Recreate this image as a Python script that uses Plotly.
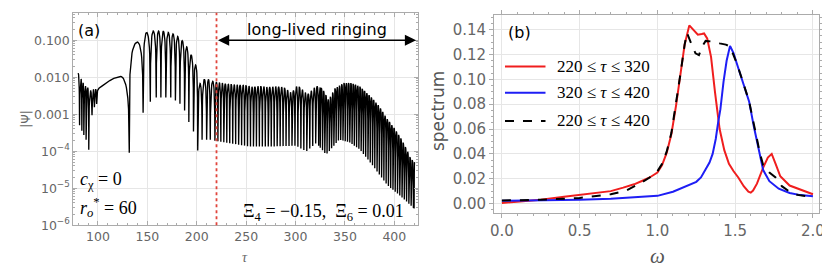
import numpy as np
import plotly.graph_objects as go

# ---------------- panel (a): |Psi| vs tau (log10 values) -------------
# resolved extrema, alternating peak / dip
early_tau = [80.0, 81.4, 83.0, 83.7, 85.0, 85.7, 87.4, 88.0, 89.7, 90.7, 92.7, 94.0, 95.4, 96.4, 97.7, 98.7]
early_log = [-1.89, -3.30, -2.05, -3.45, -2.15, -3.56, -2.24, -3.69, -2.28, -3.96, -2.37, -3.03, -2.33, -2.81, -2.32, -2.72]
# smooth hump
hump_tau = [98.7, 99.6, 101.0, 104.0, 108.0, 112.0, 116.0, 120.0, 123.0]
hump_log = [-2.72, -2.36, -2.30, -2.24, -2.16, -2.09, -2.03, -1.99, -1.98]
# resolved lobes (alternating peak / dip)
mid_tau = [123.0, 131.7, 140.0, 145.7, 149.3, 153.0, 156.0, 159.0, 161.3, 163.7, 166.2, 168.7,
           171.2, 173.7, 176.0, 178.4, 180.7, 183.0, 185.3, 187.7, 189.8, 192.0, 194.3, 196.7,
           198.8, 201.0, 203.4, 205.4, 207.7, 210.0, 211.8, 213.7, 216.2, 218.4]
mid_log = [-1.98, -4.04, -1.05, -2.96, -0.79, -2.66, -0.75, -2.55, -0.75, -2.55, -0.76, -2.55,
           -0.79, -2.55, -0.83, -2.63, -0.90, -2.72, -1.01, -2.90, -1.18, -3.21, -1.40, -3.47,
           -1.67, -3.98, -2.17, -3.69, -2.06, -3.69, -2.06, -3.69, -2.11, -3.72]
# long-lived ringing: envelopes of the dense oscillation
upper_tau = [218, 228, 238, 248, 256, 264, 272, 280, 288, 296, 302, 312, 321, 327, 333.5, 340,
             349, 356, 365, 377, 385, 393, 400, 407, 413, 416, 420]
upper_log = [-2.12, -2.17, -2.20, -2.21, -2.26, -2.24, -2.27, -2.25, -2.27, -2.43, -2.21, -2.47,
             -2.23, -2.30, -2.62, -2.30, -2.16, -2.16, -2.25, -2.55, -2.80, -3.14, -3.38, -3.67,
             -3.98, -4.17, -4.30]
lower_tau = [218, 233, 253, 280, 300, 311, 321, 331, 344, 354, 365, 377, 393, 407, 416, 420]
lower_log = [-3.72, -3.78, -3.87, -3.87, -3.85, -4.00, -3.78, -4.09, -3.69, -3.75, -3.95, -4.35,
             -4.92, -5.23, -5.45, -5.55]
ring_breaks = [218.4, 325.0, 420.0]   # tau segments of the ringing
ring_lobe = [3.0, 2.3]                # lobe width (tau) in each segment

tau_split = 220
tau_end = 422

# ---------------- panel (b): spectra ----------------
omega_red = [0.0, 0.25, 0.4, 0.5, 0.6, 0.7, 0.78, 0.85, 0.9, 0.95, 1.0, 1.03, 1.06, 1.09, 1.12, 1.15,
             1.175, 1.205, 1.23, 1.26, 1.285, 1.30, 1.32, 1.345, 1.37, 1.40, 1.43, 1.46, 1.49, 1.52,
             1.555, 1.585, 1.60, 1.615, 1.64, 1.68, 1.71, 1.735, 1.76, 1.79, 1.85, 1.92, 2.0]
spec_red = [0.0005, 0.003, 0.0055, 0.0068, 0.0085, 0.010, 0.0128, 0.0155, 0.0182, 0.021, 0.025,
            0.031, 0.041, 0.056, 0.079, 0.105, 0.128, 0.1435, 0.140, 0.136, 0.1365, 0.137, 0.133,
            0.118, 0.090, 0.060, 0.043, 0.032, 0.026, 0.021, 0.014, 0.0095, 0.0088, 0.0105, 0.016,
            0.029, 0.037, 0.040, 0.032, 0.022, 0.0145, 0.011, 0.0075]
omega_blue = [0.0, 0.3, 0.5, 0.7, 0.8, 0.9, 1.0, 1.1, 1.2, 1.25, 1.28, 1.31, 1.335, 1.355, 1.375,
              1.39, 1.405, 1.425, 1.445, 1.467, 1.49, 1.51, 1.55, 1.59, 1.62, 1.64, 1.66, 1.68,
              1.72, 1.78, 1.85, 1.92, 2.0]
spec_blue = [0.0022, 0.0025, 0.003, 0.0038, 0.0045, 0.0052, 0.0062, 0.0095, 0.0145, 0.0175, 0.021,
             0.027, 0.033, 0.040, 0.052, 0.065, 0.076, 0.098, 0.115, 0.127, 0.121, 0.113, 0.098,
             0.082, 0.062, 0.050, 0.037, 0.027, 0.018, 0.012, 0.0085, 0.0068, 0.0058]
omega_all = [0.0, 0.25, 0.5, 0.7, 0.8, 0.9, 0.95, 1.0, 1.03, 1.06, 1.09, 1.12, 1.15, 1.175, 1.19,
             1.22, 1.245, 1.267, 1.29, 1.31, 1.35, 1.40, 1.44, 1.467, 1.51, 1.55, 1.59, 1.62, 1.64,
             1.66, 1.68, 1.72, 1.76, 1.8, 1.85, 1.9, 2.0]
spec_all = [0.0025, 0.003, 0.0045, 0.0075, 0.0105, 0.017, 0.021, 0.026, 0.032, 0.042, 0.057, 0.080,
            0.106, 0.128, 0.1375, 0.128, 0.121, 0.1195, 0.127, 0.131, 0.1305, 0.129, 0.128, 0.1265,
            0.113, 0.098, 0.082, 0.064, 0.052, 0.040, 0.031, 0.025, 0.021, 0.014, 0.0095, 0.007, 0.0052]

legend_labels = ["220 ≤ <i>τ</i> ≤ 320", "320 ≤ <i>τ</i> ≤ 420", "220 ≤ <i>τ</i> ≤ 420"]


# --------- build the |Psi| line from the extrema (rounded tops, cusped dips) ---------
def lobe_curve(t_ext, v_ext, n=12):
    xs, ys = [], []
    for i in range(len(t_ext) - 1):
        s = np.linspace(0, 1, n, endpoint=False)
        a0, a1 = 10 ** v_ext[i], 10 ** v_ext[i + 1]
        amp = np.sqrt((a0 * np.cos(np.pi / 2 * s)) ** 2 + (a1 * np.sin(np.pi / 2 * s)) ** 2)
        xs.extend(t_ext[i] + s * (t_ext[i + 1] - t_ext[i]))
        ys.extend(amp)
    xs.append(t_ext[-1])
    ys.append(10 ** v_ext[-1])
    return xs, ys


ring_t, ring_v = [], []
for k in range(len(ring_lobe)):
    dips = np.arange(ring_breaks[k], ring_breaks[k + 1], ring_lobe[k])
    for d in dips:
        ring_t += [d, d + ring_lobe[k] / 2]
        ring_v += [np.interp(d, lower_tau, lower_log), np.interp(d + ring_lobe[k] / 2, upper_tau, upper_log)]
ring_t.append(ring_breaks[-1])
ring_v.append(lower_log[-1])

x1, y1 = lobe_curve(early_tau, early_log)
x3, y3 = lobe_curve(mid_tau, mid_log)
x4, y4 = lobe_curve(ring_t, ring_v, n=8)
tau_line = list(x1) + list(hump_tau[1:-1]) + list(x3) + list(x4[1:])
psi_line = list(y1) + [10 ** v for v in hump_log[1:-1]] + list(y3) + list(y4[1:])

# ---------------- figure ----------------
TICK = dict(family="DejaVu Sans", color="#666666")
FRAME = "#ababab"
GRID = "#e6e6e6"
SERIF = "Liberation Serif"

fig = go.Figure()
fig.add_trace(go.Scatter(x=tau_line, y=psi_line, mode="lines", line=dict(color="black", width=1.35),
                         xaxis="x", yaxis="y", showlegend=False, hoverinfo="skip"))
fig.add_trace(go.Scatter(x=omega_red, y=spec_red, mode="lines", line=dict(color="#f01e1e", width=2),
                         xaxis="x2", yaxis="y2", showlegend=False))
fig.add_trace(go.Scatter(x=omega_blue, y=spec_blue, mode="lines", line=dict(color="#1e1ef5", width=2),
                         xaxis="x2", yaxis="y2", showlegend=False))
fig.add_trace(go.Scatter(x=omega_all, y=spec_all, mode="lines",
                         line=dict(color="black", width=2, dash="dash"),
                         xaxis="x2", yaxis="y2", showlegend=False))

fig.update_layout(
    width=830, height=268, margin=dict(l=0, r=0, t=0, b=0),
    paper_bgcolor="white", plot_bgcolor="white",
    xaxis=dict(domain=[62 / 830, 411 / 830], range=[75, 424], tickvals=[100, 150, 200, 250, 300, 350, 400],
               showgrid=True, gridcolor=GRID, showline=True, linecolor=FRAME, linewidth=1, mirror="ticks",
               ticks="inside", ticklen=4, tickcolor=FRAME, tickfont=dict(size=12.5, **TICK),
               minor=dict(dtick=10, ticks="inside", ticklen=2, tickcolor=FRAME, showgrid=False),
               zeroline=False, anchor="y"),
    yaxis=dict(domain=[1 - 223 / 268, 1 - 5 / 268], type="log", range=[-6, -0.26],
               tickvals=[1e-6, 1e-5, 1e-4, 1e-3, 1e-2, 1e-1],
               ticktext=["10<sup>−6</sup>", "10<sup>−5</sup>", "10<sup>−4</sup>", "0.001", "0.010", "0.100"],
               showgrid=True, gridcolor=GRID, showline=True, linecolor=FRAME, linewidth=1, mirror="ticks",
               ticks="inside", ticklen=4, tickcolor=FRAME, tickfont=dict(size=12.5, **TICK),
               minor=dict(dtick="D1", ticks="inside", ticklen=2, tickcolor=FRAME, showgrid=False),
               zeroline=False, anchor="x"),
    xaxis2=dict(domain=[488 / 830, 817 / 830], range=[-0.05, 2.04], tickvals=[0, 0.5, 1.0, 1.5, 2.0],
                ticktext=["0.0", "0.5", "1.0", "1.5", "2.0"],
                showgrid=True, gridcolor=GRID, showline=True, linecolor=FRAME, linewidth=1, mirror="ticks",
                ticks="outside", ticklen=4, tickcolor=FRAME, tickfont=dict(size=15, **TICK),
                minor=dict(dtick=0.1, ticks="outside", ticklen=2, tickcolor=FRAME, showgrid=False),
                zeroline=False, anchor="y2"),
    yaxis2=dict(domain=[1 - 211 / 268, 1 - 7 / 268], range=[-0.008, 0.152], dtick=0.02, tickformat=".2f",
                showgrid=True, gridcolor=GRID, showline=True, linecolor=FRAME, linewidth=1, mirror="ticks",
                ticks="outside", ticklen=4, tickcolor=FRAME, tickfont=dict(size=15, **TICK),
                minor=dict(dtick=0.005, ticks="outside", ticklen=2, tickcolor=FRAME, showgrid=False),
                zeroline=False, anchor="x2"),
)

# red dotted marker of tau = 220
fig.add_shape(type="line", xref="x", yref="y domain", x0=tau_split, x1=tau_split, y0=0, y1=1,
              line=dict(color="#e0453c", width=1.8, dash="dot"))
# double arrow
fig.add_annotation(x=tau_end, y=-1.0, ax=tau_split, ay=-1.0, xref="x", yref="y", axref="x", ayref="y",
                   text="", showarrow=True, arrowhead=2, arrowside="end+start", arrowsize=1.4,
                   arrowwidth=1.6, arrowcolor="black")

ann = []
ann.append(dict(x=309 / 830, y=1 - 22 / 268, text="long-lived ringing",
                font=dict(family="DejaVu Sans", size=16, color="black")))
ann.append(dict(x=65 / 830, y=1 - 23 / 268, xanchor="left", text="(a)",
                font=dict(family="DejaVu Sans", size=16, color="black")))
ann.append(dict(x=500 / 830, y=1 - 25 / 268, xanchor="left", text="(b)",
                font=dict(family="DejaVu Sans", size=16, color="black")))
ann.append(dict(x=67 / 830, y=1 - 177 / 268, xanchor="left", text="<i>c</i><sub>χ</sub> = 0",
                font=dict(family=SERIF, size=18, color="black")))
ann.append(dict(x=67 / 830, y=1 - 205 / 268, xanchor="left", text="<i>r</i><sub><i>o</i></sub><sup>*</sup> = 60",
                font=dict(family=SERIF, size=18, color="black")))
ann.append(dict(x=399 / 830, y=1 - 210 / 268, xanchor="right",
                text="Ξ<sub>4</sub> = −0.15,  Ξ<sub>6</sub> = 0.01",
                font=dict(family=SERIF, size=18, color="black")))
ann.append(dict(x=14 / 830, y=1 - 114 / 268, text="|Ψ|", textangle=-90,
                font=dict(family="DejaVu Sans", size=12, color="#666666")))
ann.append(dict(x=236 / 830, y=1 - 256 / 268, text="<i>τ</i>",
                font=dict(family=SERIF, size=14, color="#666666")))
ann.append(dict(x=431 / 830, y=1 - 106 / 268, text="spectrum", textangle=-90,
                font=dict(family="DejaVu Sans", size=17, color="#555555")))
ann.append(dict(x=653 / 830, y=1 - 255 / 268, text="<i>ω</i>",
                font=dict(family=SERIF, size=21, color="#555555")))

leg_y = [60, 87, 116]
leg_style = [dict(color="#f01e1e", width=2), dict(color="#1e1ef5", width=2),
             dict(color="black", width=2, dash="dash")]
for lbl, yy, st in zip(legend_labels, leg_y, leg_style):
    fig.add_shape(type="line", xref="paper", yref="paper", x0=499 / 830, x1=540 / 830,
                  y0=1 - yy / 268, y1=1 - yy / 268, line=st)
    ann.append(dict(x=550 / 830, y=1 - yy / 268, xanchor="left", text=lbl,
                    font=dict(family=SERIF, size=17, color="black")))

for a in ann:
    a.setdefault("xref", "paper")
    a.setdefault("yref", "paper")
    a.setdefault("showarrow", False)
    a.setdefault("yanchor", "middle")
    a.setdefault("xanchor", "center")
    fig.add_annotation(**a)

fig.write_html("out.html")
